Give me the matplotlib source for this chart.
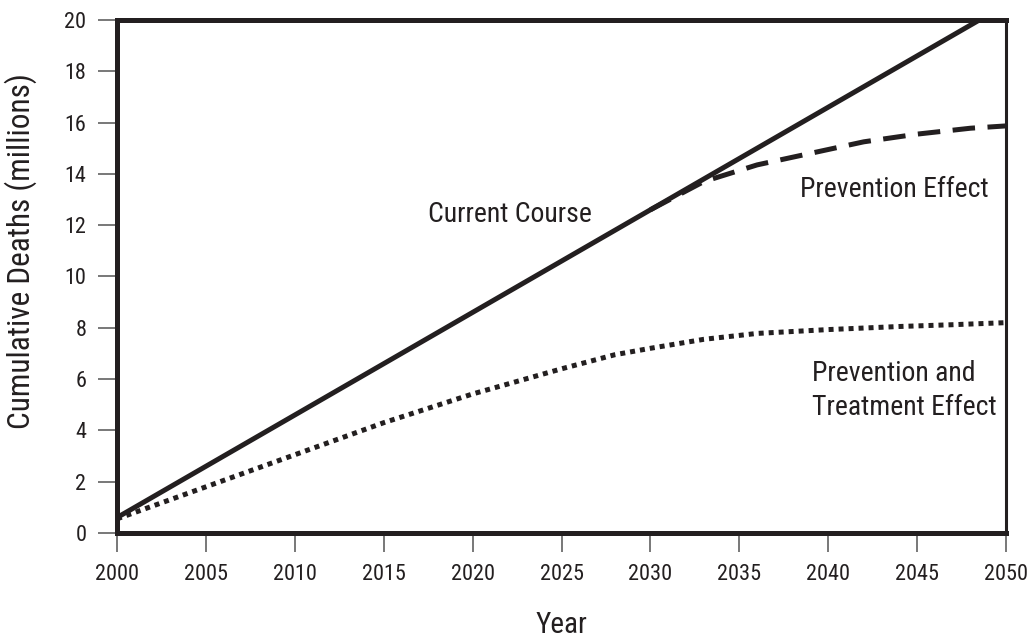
import matplotlib
matplotlib.use("Agg")
import matplotlib.pyplot as plt

plt.rcParams["font.family"] = ["Roboto Condensed", "Archivo Narrow", "Barlow Semi Condensed", "DejaVu Sans"]

INK = "#231f20"

# data
course_years = [2000, 2050]
course_vals = [0.6, 20.6]

prev_years = [2030, 2033, 2036, 2039, 2042, 2045, 2048, 2050]
prev_vals = [12.6, 13.7, 14.35, 14.8, 15.25, 15.55, 15.78, 15.87]

treat_years = [2000, 2005, 2010, 2015, 2020, 2025, 2028, 2030, 2033, 2036, 2040, 2044, 2047, 2050]
treat_vals = [0.55, 1.8, 3.05, 4.3, 5.42, 6.4, 6.95, 7.2, 7.55, 7.78, 7.93, 8.05, 8.12, 8.2]

xticks = list(range(2000, 2051, 5))
yticks = list(range(0, 21, 2))

fig = plt.figure(figsize=(10.29, 6.38), dpi=100)
ax = fig.add_axes([0.1137, 0.1646, 0.864, 0.8041])

ax.plot(course_years, course_vals, color=INK, lw=3.6, solid_capstyle="butt")
ax.plot(prev_years, prev_vals, color=INK, lw=3.6, linestyle=(0, (4.5, 2.5)))
ax.plot(treat_years, treat_vals, color=INK, lw=3.6, linestyle=(0, (1, 1)))

ax.set_xlim(2000, 2050)
ax.set_ylim(0, 20)
ax.set_xticks(xticks)
ax.set_yticks(yticks)

for side in ["left", "bottom", "top"]:
    ax.spines[side].set_linewidth(3.6)
    ax.spines[side].set_color(INK)
ax.spines["right"].set_linewidth(2.2)
ax.spines["right"].set_color(INK)

ax.tick_params(axis="both", length=14, width=1.3, color="#6d6d6d",
               labelsize=16, labelcolor=INK)
ax.tick_params(axis="y", pad=8)
ax.tick_params(axis="x", pad=8)

ax.set_xlabel("Year", fontsize=21, color=INK)
ax.xaxis.set_label_coords(0.5, -0.152)
ax.set_ylabel("Cumulative Deaths (millions)", fontsize=22.5, color=INK)
ax.yaxis.set_label_coords(-0.09, 0.55)

ax.text(2022.1, 12.4, "Current Course", fontsize=20, color=INK, ha="center", va="center")
ax.text(2043.7, 13.4, "Prevention Effect", fontsize=20, color=INK, ha="center", va="center")
ax.text(2039.1, 5.55, "Prevention and\nTreatment Effect", fontsize=20, color=INK,
        ha="left", va="center", linespacing=1.3)

fig.savefig("out.png", dpi=100)
